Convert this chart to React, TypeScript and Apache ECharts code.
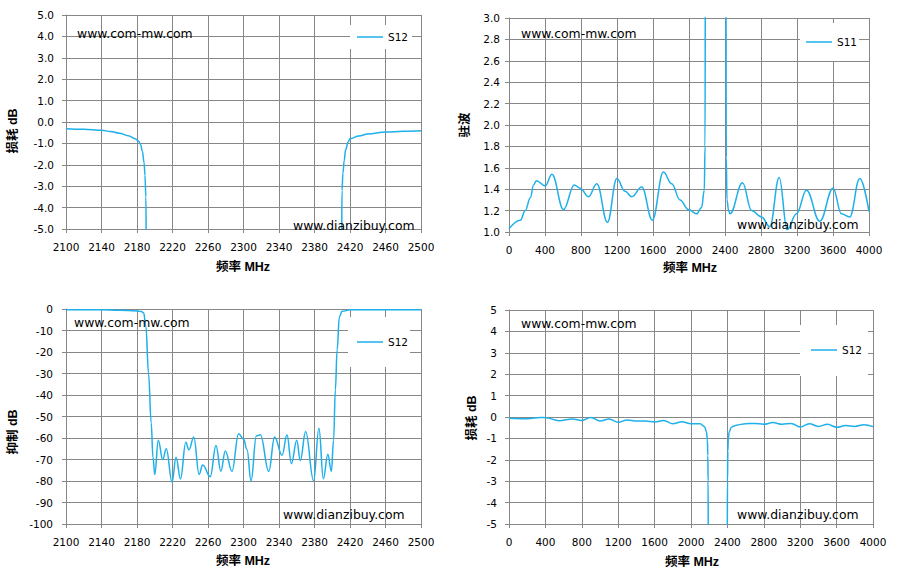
import React, { useEffect, useRef } from "react";
import * as echarts from "echarts";

// ---------- data ----------
// Panel 1: S12 loss, 2100-2500 MHz
const p1Freq = [2100, 2120, 2140, 2150, 2160, 2170, 2178, 2182, 2184, 2186, 2188, 2189, 2190, 2190.5, 2192, 2300, 2408, 2410.5, 2411, 2412, 2413.5, 2415, 2418, 2420, 2430, 2440, 2460, 2480, 2500];
const p1Loss = [-0.31, -0.34, -0.39, -0.44, -0.52, -0.64, -0.78, -0.9, -1.05, -1.35, -1.9, -2.5, -3.5, -6, -40, -60, -40, -6, -3.2, -2.4, -1.8, -1.3, -0.92, -0.78, -0.65, -0.56, -0.47, -0.43, -0.41];

// Panel 2: S11 VSWR, 0-4000 MHz
const p2Freq = [0, 126, 181, 237, 274, 303, 403, 477, 606, 725, 790, 883, 976, 1094, 1198, 1290, 1364, 1475, 1593, 1715, 1808, 1900, 1993, 2085, 2140, 2170, 2178, 2183, 2300, 2410, 2414, 2422, 2440, 2455, 2595, 2695, 2806, 2898, 3002, 3091, 3194, 3305, 3453, 3601, 3693, 3786, 3897, 4000];
const p2Vswr = [1.03, 1.11, 1.2, 1.32, 1.44, 1.48, 1.43, 1.54, 1.21, 1.44, 1.41, 1.33, 1.45, 1.09, 1.5, 1.38, 1.33, 1.42, 1.11, 1.56, 1.45, 1.3, 1.21, 1.17, 1.23, 1.39, 1.8, 4, 5, 4, 1.7, 1.3, 1.2, 1.17, 1.46, 1.2, 1.14, 1.05, 1.51, 1.02, 1.17, 1.39, 1.1, 1.41, 1.17, 1.14, 1.5, 1.19];

// Panel 3: S12 rejection, 2100-2500 MHz
const p3Freq = [2100, 2140, 2160, 2180, 2185, 2187.5, 2190, 2193, 2196, 2198, 2200, 2204, 2209, 2213, 2219.5, 2224, 2229, 2235, 2238.5, 2244, 2250, 2254, 2262.5, 2269, 2274.5, 2279.5, 2287, 2294.5, 2300, 2304, 2308.5, 2314.5, 2319, 2328.5, 2335, 2343.5, 2349, 2354, 2360, 2364, 2370, 2379, 2385, 2390, 2395, 2399, 2401.5, 2403.5, 2405.5, 2408, 2411, 2420, 2460, 2500];
const p3Rej = [-0.3, -0.4, -0.6, -0.9, -1.2, -1.8, -8, -30, -53, -69, -77, -61, -70, -65, -80.5, -69, -79, -62, -65.5, -59.5, -77, -72.5, -78, -63.5, -75.5, -66, -75.5, -58, -60.5, -65.5, -80, -59, -58.5, -75.5, -59.5, -68, -58.5, -72, -61, -70.5, -57, -80, -55.5, -79, -67.5, -75.5, -61, -37.7, -19, -3.7, -1.1, -0.4, -0.3, -0.3];

// Panel 4: S12 loss, 0-4000 MHz
const p4Freq = [0, 200, 350, 400, 550, 700, 800, 900, 1000, 1100, 1200, 1300, 1400, 1500, 1600, 1700, 1800, 1900, 2000, 2100, 2150, 2170, 2180, 2185, 2188, 2190, 2200, 2300, 2395, 2398, 2401, 2405, 2410, 2420, 2440, 2470, 2500, 2600, 2700, 2800, 2900, 3000, 3100, 3200, 3300, 3400, 3500, 3600, 3700, 3800, 3900, 4000];
const p4Loss = [-0.06, -0.08, -0.02, -0.03, -0.17, -0.09, -0.16, -0.02, -0.19, -0.09, -0.25, -0.14, -0.19, -0.19, -0.23, -0.16, -0.31, -0.22, -0.31, -0.31, -0.45, -0.7, -1.06, -1.8, -3, -6, -40, -60, -40, -6, -3, -1.6, -1.0, -0.7, -0.5, -0.42, -0.38, -0.31, -0.3, -0.34, -0.26, -0.34, -0.3, -0.47, -0.31, -0.44, -0.34, -0.48, -0.4, -0.44, -0.36, -0.45];

const seriesNames = ["S12", "S11", "S12", "S12"];
const yTitles = ["损耗 dB", "驻波", "抑制 dB", "损耗 dB"];
const xTitle = "频率 MHz";
const mark1 = "www.com-mw.com";
const mark2 = "www.dianzibuy.com";

// ---------- styling ----------
const LINE = "#1eb0ea";
const GRIDC = "#878787";
const FONT = "'DejaVu Sans', Verdana, sans-serif";
const TFONT = "'Liberation Sans', 'Noto Sans CJK SC', sans-serif";

const pairs = (xs: number[], ys: number[]) => xs.map((x, i) => [x, ys[i]]);

const grids = [
  { left: 66, top: 15, width: 355, height: 214 },
  { left: 509, top: 18, width: 360, height: 214 },
  { left: 66, top: 309, width: 355, height: 215 },
  { left: 509, top: 310, width: 364, height: 214 },
];

function xAxis(gridIndex: number, min: number, max: number, interval: number) {
  return {
    type: "value",
    gridIndex,
    min,
    max,
    interval,
    axisLine: { show: true, onZero: false, lineStyle: { color: GRIDC, width: 1 } },
    axisTick: { show: true, inside: false, length: 4, lineStyle: { color: GRIDC } },
    axisLabel: {
      color: "#000",
      fontFamily: FONT,
      fontSize: 10.5,
      margin: 12,
      formatter: (v: number) => String(v),
    },
    splitLine: { show: true, lineStyle: { color: GRIDC, width: 1 } },
  };
}

function yAxis(gridIndex: number, min: number, max: number, interval: number, dec: number, margin: number) {
  return {
    type: "value",
    gridIndex,
    min,
    max,
    interval,
    axisLine: { show: true, onZero: false, lineStyle: { color: GRIDC, width: 1 } },
    axisTick: { show: true, inside: false, length: 4, lineStyle: { color: GRIDC } },
    axisLabel: {
      color: "#000",
      fontFamily: FONT,
      fontSize: 10.5,
      margin,
      formatter: (v: number) => v.toFixed(dec),
    },
    splitLine: { show: true, lineStyle: { color: GRIDC, width: 1 } },
  };
}

function line(i: number, data: number[][]) {
  return {
    type: "line",
    name: seriesNames[i],
    xAxisIndex: i,
    yAxisIndex: i,
    data,
    symbol: "none",
    showSymbol: false,
    smooth: 0.4,
    smoothMonotone: "x",
    clip: true,
    lineStyle: { color: LINE, width: 1.5 },
    itemStyle: { color: LINE },
  };
}

function legend(name: string, left: number, top: number, padding: number[]) {
  return {
    data: [{ name, icon: "rect" }],
    left,
    top,
    padding,
    backgroundColor: "#ffffff",
    itemWidth: 26,
    itemHeight: 1.5,
    selectedMode: false,
    itemStyle: { color: LINE, borderWidth: 0 },
    textStyle: { color: "#000", fontFamily: FONT, fontSize: 10.5, lineHeight: 12 },
  };
}

function text(t: string, x: number, y: number, size: number, bold: boolean, rot = 0, align = "left") {
  return {
    type: "text",
    x,
    y,
    rotation: rot,
    z: 100,
    style: {
      text: t,
      fill: "#000",
      fontFamily: bold ? TFONT : FONT,
      fontSize: size,
      fontWeight: bold ? "bold" : "normal",
      textAlign: align,
      textVerticalAlign: "middle",
    },
  };
}

export default function App() {
  const ref = useRef<HTMLDivElement>(null);
  useEffect(() => {
    if (!ref.current) return;
    const chart = echarts.init(ref.current, undefined, { renderer: "svg" });
    const R = Math.PI / 2;
    chart.setOption({
      animation: false,
      backgroundColor: "#ffffff",
      grid: grids,
      xAxis: [
        xAxis(0, 2100, 2500, 40),
        xAxis(1, 0, 4000, 400),
        xAxis(2, 2100, 2500, 40),
        xAxis(3, 0, 4000, 400),
      ],
      yAxis: [
        yAxis(0, -5, 5, 1, 1, 12),
        yAxis(1, 1, 3, 0.2, 1, 9),
        yAxis(2, -100, 0, 10, 0, 13),
        yAxis(3, -5, 5, 1, 0, 12),
      ],
      legend: [
        legend(seriesNames[0], 350, 25, [6, 4, 6, 7]),
        legend(seriesNames[1], 800, 23, [13, 2, 13, 6]),
        legend(seriesNames[2], 348, 317, [19, 2, 19, 9]),
        legend(seriesNames[3], 800, 325, [19, 6, 20, 11]),
      ],
      series: [
        line(0, pairs(p1Freq, p1Loss)),
        line(1, pairs(p2Freq, p2Vswr)),
        line(2, pairs(p3Freq, p3Rej)),
        line(3, pairs(p4Freq, p4Loss)),
      ],
      graphic: [
        text(mark1, 77, 33, 12.4, false),
        text(mark2, 293, 225, 12.4, false),
        text(mark1, 521, 33, 12.4, false),
        text(mark2, 737, 224, 12.4, false),
        text(mark1, 74, 322, 12.4, false),
        text(mark2, 283, 514, 12.4, false),
        text(mark1, 521, 323, 12.4, false),
        text(mark2, 737, 514, 12.4, false),
        text(yTitles[0], 13, 131, 12.5, true, R, "center"),
        text(yTitles[1], 465, 125, 12.5, true, R, "center"),
        text(yTitles[2], 13, 432, 12.5, true, R, "center"),
        text(yTitles[3], 472, 418, 12.5, true, R, "center"),
        text(xTitle, 243, 267, 12.5, true, 0, "center"),
        text(xTitle, 690, 268, 12.5, true, 0, "center"),
        text(xTitle, 243, 561, 12.5, true, 0, "center"),
        text(xTitle, 692, 562, 12.5, true, 0, "center"),
      ],
    });
    return () => chart.dispose();
  }, []);
  return (
    <div
      ref={ref}
      style={{ position: "absolute", left: 0, top: 0, width: 897, height: 578, background: "#fff" }}
    />
  );
}
